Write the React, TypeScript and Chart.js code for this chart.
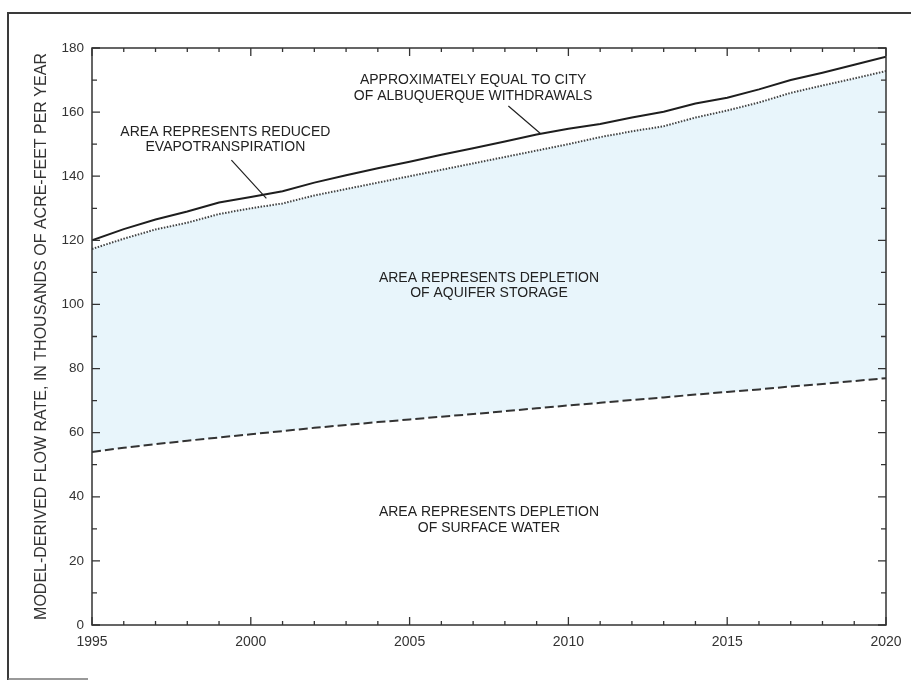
import React, { useEffect, useRef } from "react";
import { Chart, registerables } from "chart.js";

Chart.register(...registerables);

const years = [
  1995, 1996, 1997, 1998, 1999, 2000, 2001, 2002, 2003, 2004, 2005, 2006, 2007,
  2008, 2009, 2010, 2011, 2012, 2013, 2014, 2015, 2016, 2017, 2018, 2019, 2020,
];

// Depletion of surface water (dashed line)
const surfaceWater = [
  54.0, 55.3, 56.4, 57.5, 58.5, 59.5, 60.5, 61.5, 62.4, 63.3, 64.1, 65.0, 65.8,
  66.7, 67.6, 68.5, 69.3, 70.2, 71.0, 71.9, 72.7, 73.5, 74.4, 75.2, 76.1, 77.0,
];

// Upper edge of aquifer-storage depletion (dotted line)
const aquiferTop = [
  117.3, 120.5, 123.4, 125.5, 128.2, 130.0, 131.5, 134.0, 136.0, 138.0, 140.0,
  142.0, 144.0, 146.0, 148.0, 150.0, 152.2, 154.0, 155.6, 158.3, 160.5, 163.0,
  166.0, 168.3, 170.5, 172.8,
];

// Total, approximately equal to City of Albuquerque withdrawals (solid line)
const totalWithdrawals = [
  120.0, 123.5, 126.5, 129.0, 131.8, 133.5, 135.3, 138.0, 140.3, 142.5, 144.5,
  146.7, 148.7, 150.8, 153.0, 154.8, 156.3, 158.3, 160.1, 162.7, 164.5, 167.1,
  170.0, 172.3, 174.8, 177.3,
];

const yTitle = "MODEL-DERIVED FLOW RATE, IN THOUSANDS OF ACRE-FEET PER YEAR";

const labelLines = [
  ["AREA REPRESENTS REDUCED", "EVAPOTRANSPIRATION"],
  ["APPROXIMATELY EQUAL TO CITY", "OF ALBUQUERQUE WITHDRAWALS"],
  ["AREA REPRESENTS DEPLETION", "OF AQUIFER STORAGE"],
  ["AREA REPRESENTS DEPLETION", "OF SURFACE WATER"],
];

// label anchor positions in data coordinates (layout)
const labelPos = [
  { x: 1999.2, y: [153.8, 149.1] },
  { x: 2007.0, y: [170.0, 165.0] },
  { x: 2007.5, y: [108.1, 103.4] },
  { x: 2007.5, y: [35.2, 30.2] },
];
const leaders = [
  { x1: 1999.39, y1: 145.0, x2: 2000.49, y2: 133.1 },
  { x1: 2008.11, y1: 161.9, x2: 2009.11, y2: 153.4 },
];

const FONT = "Arial, 'Liberation Sans', Helvetica, sans-serif";

const decorPlugin = {
  id: "decor",
  afterDatasetsDraw(chart: any) {
    const { ctx, chartArea: ca, scales } = chart;
    const x = scales.x;
    const y = scales.y;
    ctx.save();
    // outer frame
    ctx.strokeStyle = "#3a3a3a";
    ctx.lineWidth = 2;
    ctx.beginPath();
    ctx.moveTo(8, 680);
    ctx.lineTo(8, 13);
    ctx.lineTo(911, 13);
    ctx.stroke();
    ctx.strokeStyle = "#777";
    ctx.lineWidth = 1.5;
    ctx.beginPath();
    ctx.moveTo(8, 679);
    ctx.lineTo(88, 679);
    ctx.stroke();

    // plot box
    ctx.strokeStyle = "#333";
    ctx.lineWidth = 1.5;
    ctx.strokeRect(ca.left, ca.top, ca.right - ca.left, ca.bottom - ca.top);

    // inward ticks
    ctx.lineWidth = 1.3;
    ctx.beginPath();
    for (let yr = 1995; yr <= 2020; yr++) {
      const px = x.getPixelForValue(yr);
      const len = yr % 5 === 0 ? 8 : 4;
      ctx.moveTo(px, ca.bottom);
      ctx.lineTo(px, ca.bottom - len);
      ctx.moveTo(px, ca.top);
      ctx.lineTo(px, ca.top + len);
    }
    for (let v = 0; v <= 180; v += 10) {
      const py = y.getPixelForValue(v);
      const len = v % 20 === 0 ? 8 : 5;
      ctx.moveTo(ca.left, py);
      ctx.lineTo(ca.left + len, py);
      ctx.moveTo(ca.right, py);
      ctx.lineTo(ca.right - len, py);
    }
    ctx.stroke();

    // leader lines
    ctx.strokeStyle = "#222";
    ctx.lineWidth = 1.2;
    ctx.beginPath();
    leaders.forEach((l) => {
      ctx.moveTo(x.getPixelForValue(l.x1), y.getPixelForValue(l.y1));
      ctx.lineTo(x.getPixelForValue(l.x2), y.getPixelForValue(l.y2));
    });
    ctx.stroke();

    // labels
    ctx.fillStyle = "#222";
    ctx.font = `14px ${FONT}`;
    ctx.textAlign = "center";
    ctx.textBaseline = "middle";
    labelLines.forEach((lines, i) => {
      const p = labelPos[i];
      lines.forEach((t, j) => {
        ctx.fillText(t, x.getPixelForValue(p.x), y.getPixelForValue(p.y[j]));
      });
    });
    ctx.restore();
  },
};

export default function App() {
  const ref = useRef<HTMLCanvasElement>(null);
  useEffect(() => {
    if (!ref.current) return;
    const chart = new Chart(ref.current, {
      type: "line",
      data: {
        datasets: [
          {
            label: "Surface water",
            data: years.map((yr, i) => ({ x: yr, y: surfaceWater[i] })),
            borderColor: "#333",
            borderWidth: 2,
            borderDash: [9, 4],
            pointRadius: 0,
            fill: false,
          },
          {
            label: "Aquifer storage",
            data: years.map((yr, i) => ({ x: yr, y: aquiferTop[i] })),
            borderColor: "#444",
            borderWidth: 2,
            borderDash: [1.5, 1.5],
            pointRadius: 0,
            fill: "-1",
            backgroundColor: "#e8f5fb",
          },
          {
            label: "Total",
            data: years.map((yr, i) => ({ x: yr, y: totalWithdrawals[i] })),
            borderColor: "#1e1e1e",
            borderWidth: 2,
            pointRadius: 0,
            fill: false,
          },
        ],
      },
      options: {
        responsive: false,
        animation: false,
        layout: { padding: { left: 0, right: 25, top: 48, bottom: 25 } },
        plugins: {
          legend: { display: false },
          tooltip: { enabled: false },
        },
        scales: {
          x: {
            type: "linear",
            min: 1995,
            max: 2020,
            grid: { display: false, drawTicks: false },
            border: { display: false },
            ticks: {
              stepSize: 5,
              color: "#333",
              font: { family: FONT, size: 14 },
              padding: 9,
              maxRotation: 0,
              callback: (v: any) => String(v),
            },
            afterFit: (s: any) => {
              s.height = 30;
            },
          },
          y: {
            min: 0,
            max: 180,
            grid: { display: false, drawTicks: false },
            border: { display: false },
            ticks: {
              stepSize: 20,
              color: "#333",
              font: { family: FONT, size: 13.5 },
              padding: 8,
            },
            title: {
              display: true,
              text: yTitle,
              color: "#333",
              font: { family: FONT, size: 16 },
              padding: { top: 32, bottom: 0 },
            },
            afterFit: (s: any) => {
              s.width = 92;
            },
          },
        },
      },
      plugins: [decorPlugin],
    });
    return () => chart.destroy();
  }, []);
  return (
    <div style={{ position: "absolute", left: 0, top: 0, width: 911, height: 680, background: "#fff" }}>
      <canvas ref={ref} width={911} height={680} />
    </div>
  );
}
